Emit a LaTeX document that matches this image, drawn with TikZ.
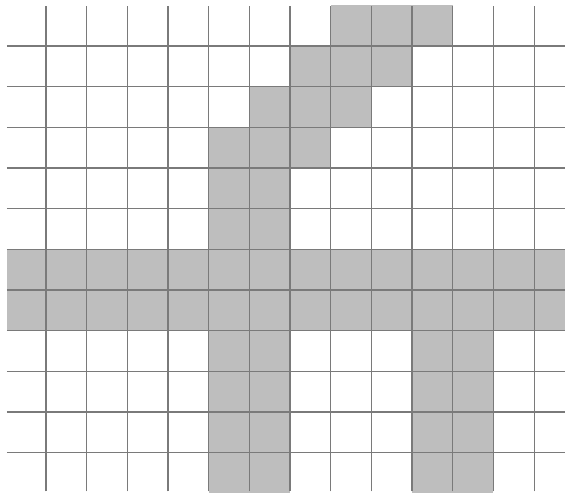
\documentclass[tikz,border=0pt]{standalone}
\usepackage{xcolor}
\definecolor{ccell}{HTML}{BEBEBE}
\definecolor{cline}{HTML}{7A7A7A}

\begin{document}
\begin{tikzpicture}[
  cell/.style={fill=ccell},
  gridline/.style={draw=cline, line width=0.8pt}
]
\useasboundingbox (-0.13,0) rectangle (13.76,12.13);

% shaded cells, diagonal stroke
\fill[cell] (8,11) rectangle (11,12);
\fill[cell] (7,10) rectangle (10,11);
\fill[cell] (6,9) rectangle (9,10);
\fill[cell] (5,8) rectangle (8,9);
\fill[cell] (5,6) rectangle (7,8);

% horizontal bar
\fill[cell] (0.04,4) rectangle (13.76,6);

% two legs
\fill[cell] (5,0) rectangle (7,4);
\fill[cell] (10,0) rectangle (12,4);

% grid lines
\foreach \x in {1,...,13}
  \draw[gridline] (\x,0.05) -- (\x,11.98);
\foreach \y in {1,...,11}
  \draw[gridline] (0.04,\y) -- (13.76,\y);
\end{tikzpicture}
\end{document}
